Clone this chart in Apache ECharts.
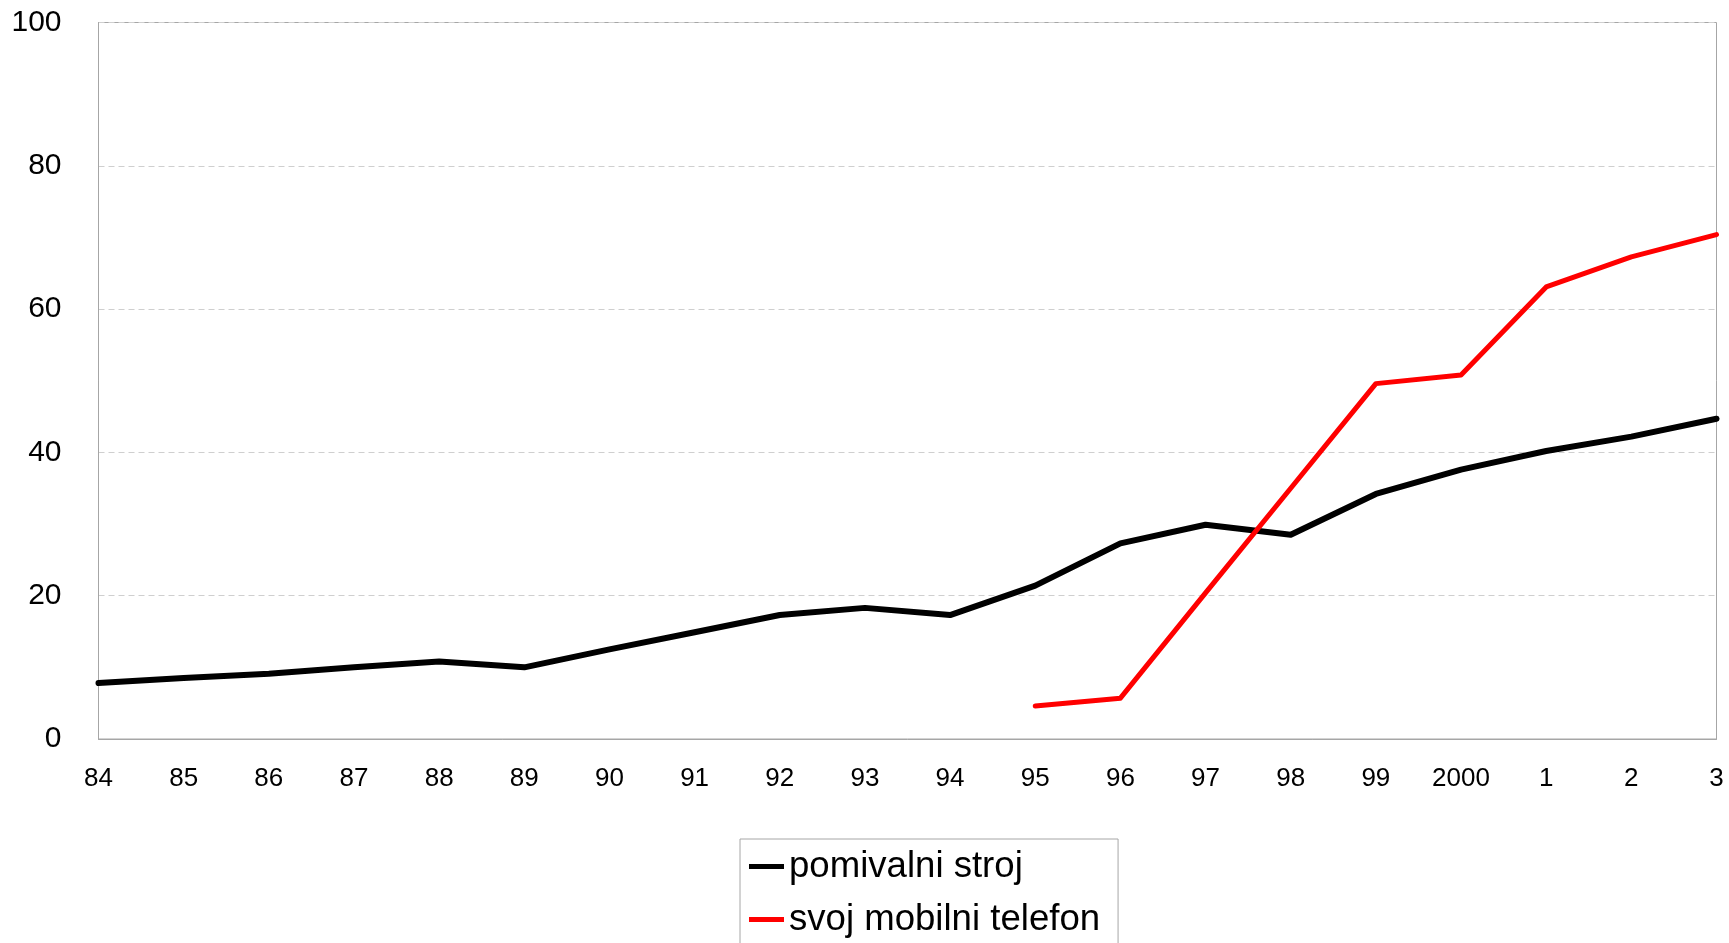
<!DOCTYPE html>
<html>
<head>
<meta charset="utf-8">
<script src="https://cdn.jsdelivr.net/npm/echarts@6/dist/echarts.min.js"></script>
<style>
html,body{margin:0;padding:0;background:#fff;}
#chart{width:1729px;height:943px;}
</style>
</head>
<body>
<div id="chart"></div>
<script>
var years = ['84','85','86','87','88','89','90','91','92','93','94','95','96','97','98','99','2000','1','2','3'];
var dishwasher = [7.8, 8.5, 9.1, 10.0, 10.8, 10.0, 12.5, 14.9, 17.3, 18.3, 17.3, 21.4, 27.3, 29.9, 28.5, 34.2, 37.6, 40.2, 42.2, 44.7];
var mobilePhone = [null, null, null, null, null, null, null, null, null, null, null, 4.6, 5.7, 20.4, 35.0, 49.6, 50.8, 63.1, 67.3, 70.4];
var seriesNames = ['pomivalni stroj', 'svoj mobilni telefon'];
var yTicks = [0, 20, 40, 60, 80, 100];

var chart = echarts.init(document.getElementById('chart'), null, {renderer: 'canvas'});
var font = '"Liberation Sans", Arial, sans-serif';
chart.setOption({
  animation: false,
  backgroundColor: '#fff',
  grid: {
    left: 98.5, right: 12.5, top: 22.5, bottom: 204,
    show: true, borderColor: '#a6a6a6', borderWidth: 1, backgroundColor: 'transparent'
  },
  xAxis: {
    type: 'category',
    data: years,
    boundaryGap: false,
    axisLine: {show: true, lineStyle: {color: '#a6a6a6', width: 1}},
    axisTick: {show: false},
    axisLabel: {color: '#000', fontSize: 26, fontFamily: font, margin: 27, interval: 0},
    splitLine: {show: false}
  },
  yAxis: {
    type: 'value',
    min: yTicks[0], max: yTicks[yTicks.length - 1], interval: 20,
    axisLine: {show: true, lineStyle: {color: '#a6a6a6', width: 1}},
    axisTick: {show: false},
    axisLabel: {color: '#000', fontSize: 30, fontFamily: font, margin: 37},
    splitLine: {show: true, lineStyle: {color: '#cfcfcf', width: 1, type: [6, 4]}}
  },
  legend: {
    orient: 'vertical',
    left: 740, top: 839,
    width: 380, height: 120,
    padding: [9, 18, 9, 9],
    itemGap: 16,
    itemWidth: 35, itemHeight: 5,
    icon: 'rect',
    borderColor: '#a6a6a6', borderWidth: 1,
    backgroundColor: '#fff',
    textStyle: {color: '#000', fontSize: 36.6, fontFamily: font},
    data: seriesNames
  },
  series: [
    {
      name: seriesNames[0], type: 'line', data: dishwasher,
      symbol: 'none', color: '#000',
      lineStyle: {color: '#000', width: 6, cap: 'round', join: 'round'}
    },
    {
      name: seriesNames[1], type: 'line', data: mobilePhone,
      symbol: 'none', color: '#ff0000',
      lineStyle: {color: '#ff0000', width: 5, cap: 'round', join: 'round'}
    }
  ]
});
</script>
</body>
</html>
